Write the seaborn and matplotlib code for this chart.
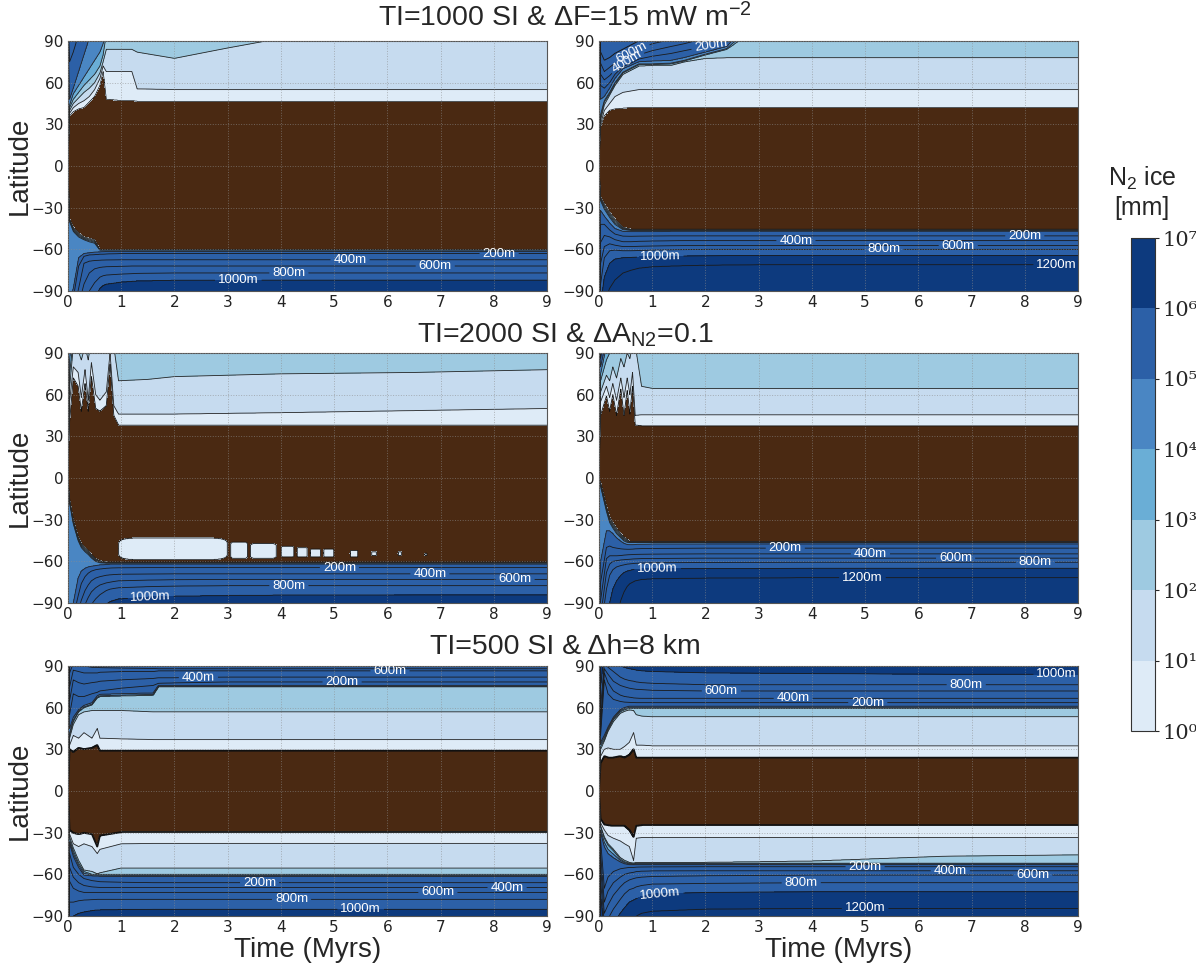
import numpy as np
import matplotlib
matplotlib.use("Agg")
import matplotlib.pyplot as plt
import seaborn as sns
from matplotlib.colors import ListedColormap, BoundaryNorm
import matplotlib.colorbar as mcolorbar

sns.set_style("white")
plt.rcParams['font.family'] = ['Liberation Sans', 'DejaVu Sans']
plt.rcParams['mathtext.fontset'] = 'custom'
plt.rcParams['mathtext.rm'] = 'Liberation Sans'
plt.rcParams['mathtext.it'] = 'Liberation Sans:italic'
plt.rcParams['mathtext.bf'] = 'Liberation Sans:bold'

# ------------------------------------------------------------------ data
# N2 ice thickness levels (mm) whose latitude is read off the picture
THICKNESS_MM = {"1mm": 1.0, "10mm": 10.0, "100mm": 100.0, "1m": 1e3, "10m": 1e4,
                "100m": 1e5, "200m": 2e5, "400m": 4e5, "600m": 6e5, "800m": 8e5,
                "1000m": 1e6, "1200m": 1.2e6}
COLORBAR_EXPONENTS = [0, 1, 2, 3, 4, 5, 6, 7]
TIME_TICKS = [0, 1, 2, 3, 4, 5, 6, 7, 8, 9]
LAT_TICKS = [-90, -60, -30, 0, 30, 60, 90]
ROW_TITLES = [r"TI=1000 SI & ΔF=15 mW m$^{\mathrm{-2}}$",
              r"TI=2000 SI & ΔA$_{\mathrm{N2}}$=0.1",
              r"TI=500 SI & Δh=8 km"]

# ---- panel 1 (top left)
P1_TIME = [0, 0.03, 0.1, 0.2, 0.3, 0.4, 0.5, 0.6, 0.66, 0.72, 1.0, 1.2, 1.3, 2, 3, 4, 9]
P1_NORTH = {
    "1mm":   [0.5, 36, 39, 41, 42, 46, 50, 58, 68, 48, 47, 47, 46.5, 46.5, 46.5, 46.5, 46.5],
    "10mm":  [1.0, 38, 42, 45, 47, 50, 55, 63, 72, 68, 68, 68, 55.5, 55, 55, 55, 55],
    "100mm": [1.5, 40, 45, 49, 53, 56, 60, 67, 75, 84, 84, 84, 82, 77.5, 85, 92, 93],
    "1m":    [2.0, 42, 48, 53, 58, 62, 66, 72, 80, 95, 95, 95, 100, 100, 100, 105, 105],
    "10m":   [2.5, 44, 52, 58, 64, 70, 76, 82, 88, 100, 110, 110, 110, 110, 110, 110, 110],
    "100m":  [100, 48, 56, 68, 80, 92, 105, 110, 115, 120, 120, 120, 120, 120, 120, 120, 120],
    "200m":  [110, 75, 82, 95, 110, 120, 125, 130, 130, 130, 130, 130, 130, 130, 130, 130, 130],
}
P1_SOUTH = {
    "1mm":   [-0.5, -38, -44, -48, -51, -52, -53, -60, -60, -60, -60, -60, -60, -60, -60, -60, -60],
    "10m":   [-2.5, -40, -47, -51, -53, -54.5, -55.5, -60.5, -60.5, -60.5, -60.5, -60.5, -60.5, -60.5, -60.5, -60.5, -60.5],
    "100m":  [-100, -98, -88, -66, -63, -62.5, -62, -61.8, -61.6, -61.5, -61.5, -61.5, -61.5, -61.5, -61.5, -61.5, -61.5],
    "200m":  [-110, -105, -95, -72, -65, -64, -63.8, -63.5, -63.5, -63.3, -63, -63, -63, -63, -63, -63, -63],
    "400m":  [-120, -115, -105, -88, -70, -68.5, -68, -67.8, -67.7, -67.6, -67.5, -67.5, -67.5, -67.5, -67.5, -67.5, -67.5],
    "600m":  [-130, -125, -115, -100, -85, -77, -74, -73, -72.7, -72.5, -72.2, -72, -72, -72, -72, -72, -72],
    "800m":  [-140, -135, -125, -110, -98, -90, -84, -80, -79, -78.5, -77.8, -77.5, -77.3, -77, -77, -77, -77],
    "1000m": [-150, -145, -135, -120, -110, -102, -95, -88, -86, -85, -83.5, -83, -82.7, -82.2, -82, -82, -82],
}

# ---- panel 2 (top right)
P2_TIME = [0, 0.03, 0.1, 0.2, 0.3, 0.45, 0.6, 0.75, 1.0, 1.35, 1.6, 2, 2.4, 3, 4, 6.5, 9]
P2_NORTH = {
    "1mm":   [0.5, 28, 36, 40, 41, 41.5, 42, 42, 42, 42, 42, 42, 42, 42, 42, 42, 42],
    "10mm":  [1.0, 30, 40, 45, 50, 53, 54, 55, 55, 55, 55, 55, 55, 55, 55, 55, 55],
    "100mm": [1.5, 33, 44, 51, 58, 66, 69, 72, 72.5, 72.5, 75, 77.5, 78, 78, 78, 78, 78],
    "1m":    [2.0, 35, 46, 52, 59, 67, 70, 73, 73, 73.5, 75.6, 80, 84, 100, 110, 110, 110],
    "10m":   [2.5, 37, 47, 53, 60, 67.5, 70.5, 73.5, 73.5, 74, 76, 80.5, 84.5, 105, 115, 115, 115],
    "100m":  [100, 48, 50, 56, 63, 70, 72.5, 75, 75.5, 76, 78, 82, 86, 110, 120, 120, 120],
    "200m":  [110, 58, 56, 60, 66, 71.5, 74, 77, 79, 81, 83, 86, 88, 115, 125, 125, 125],
    "400m":  [120, 66, 62, 65, 69, 74, 77, 80, 83, 86, 88, 92, 95, 120, 130, 130, 130],
    "600m":  [130, 74, 68, 71, 74, 78, 81, 84, 88, 91, 93, 97, 100, 125, 135, 135, 135],
    "800m":  [140, 82, 76, 78, 81, 84, 87, 90, 94, 97, 100, 105, 110, 130, 140, 140, 140],
}
P2_SOUTH = {
    "1mm":   [-0.5, -22, -27, -33, -38, -44, -45.5, -45.5, -45.5, -45.5, -45.5, -45.5, -45.5, -45.5, -45.5, -45.5, -45.5],
    "10m":   [-2.5, -25, -31, -37, -42, -45.8, -46.3, -46.3, -46.3, -46.3, -46.3, -46.3, -46.3, -46.3, -46.3, -46.3, -46.3],
    "100m":  [-100, -32, -36, -41, -45, -47, -47.2, -47.2, -47.2, -47, -47, -47, -47, -47, -47, -47, -47],
    "200m":  [-110, -42, -42, -46, -49, -50.5, -50.6, -50.5, -50.4, -50.3, -50.3, -50.3, -50.3, -50.3, -50.3, -50.3, -50.3],
    "400m":  [-120, -55, -50, -51, -53, -54.5, -54.5, -54.2, -54, -53.8, -53.7, -53.7, -53.7, -53.7, -53.7, -53.7, -53.7],
    "600m":  [-130, -70, -58, -56, -57, -58, -58, -57.8, -57.6, -57.4, -57.3, -57.3, -57.3, -57.3, -57.3, -57.3, -57.3],
    "800m":  [-140, -85, -66, -61, -60.5, -61, -61, -60.8, -60.5, -60.3, -60.2, -60, -60, -60, -60, -60, -60],
    "1000m": [-150, -100, -80, -70, -67, -66, -65.8, -65.5, -65.2, -65, -64.8, -64.6, -64.5, -64.5, -64.5, -64.5, -64.5],
    "1200m": [-160, -120, -98, -88, -82, -77, -75, -73.5, -72.5, -72, -71.7, -71.4, -71.2, -71, -71, -71, -71],
}

# ---- panel 3 (middle left)
P3_TIME = [0, 0.03, 0.1, 0.19, 0.25, 0.32, 0.38, 0.44, 0.52, 0.6, 0.72, 0.79, 0.86, 0.95, 1.5, 2, 3, 4, 6.5, 9]
P3_NORTH = {
    "1mm":   [0.5, 40, 72, 66, 48, 68, 48, 73, 50, 48, 52, 82, 45, 38, 38, 38, 38, 38, 38, 38],
    "10mm":  [1.0, 55, 80, 76, 58, 78, 56, 83, 60, 56, 62, 90, 52, 46, 46, 46, 46.5, 47, 48.5, 50],
    "100mm": [1.5, 65, 95, 92, 85, 95, 85, 100, 92, 90, 95, 105, 95, 70, 71, 73, 74, 75, 76, 78],
    "1m":    [2.0, 75, 100, 105, 105, 105, 105, 110, 110, 110, 110, 110, 110, 100, 100, 100, 100, 100, 100, 100],
    "10m":   [2.5, 85, 110, 115, 115, 115, 115, 115, 115, 115, 115, 115, 115, 115, 115, 115, 115, 115, 115, 115],
    "100m":  [100, 110, 120, 120, 120, 120, 120, 120, 120, 120, 120, 120, 120, 120, 120, 120, 120, 120, 120, 120],
}
P3_SOUTH = {
    "1mm":   [-0.5, -15, -30, -42, -47, -50, -52, -55, -58, -59.5, -60.5, -60.5, -60.5, -60.5, -60.5, -60.5, -60.5, -60.5, -60.5, -60.5],
    "10m":   [-2.5, -18, -33, -45, -50, -53, -55, -57.5, -60, -61, -61.3, -61.3, -61.3, -61.3, -61.3, -61.3, -61.3, -61.3, -61.3, -61.3],
    "100m":  [-100, -95, -90, -72, -67, -65, -64, -63.5, -63, -62.5, -62.2, -62, -62, -62, -62, -62, -62, -62, -62, -62],
    "200m":  [-110, -105, -100, -85, -76, -71, -68.5, -67, -66, -65.5, -65, -64.8, -64.7, -64.6, -64.5, -64.5, -64.5, -64.5, -64.5, -64.5],
    "400m":  [-120, -115, -110, -96, -88, -81, -77, -74, -72, -71, -70, -69.7, -69.5, -69.3, -69.1, -69, -69, -69, -69, -69],
    "600m":  [-130, -125, -120, -106, -98, -91, -86, -82, -79, -77, -75.5, -75, -74.5, -74, -73.5, -73.2, -73, -73, -73, -73],
    "800m":  [-140, -135, -130, -116, -108, -101, -96, -91, -87, -84, -81, -80, -79.5, -79, -78.2, -77.8, -77.5, -77.5, -77.5, -77.5],
    "1000m": [-150, -145, -140, -126, -118, -111, -106, -101, -97, -94, -90.5, -89, -88, -87, -85.5, -85, -84.5, -84.2, -84, -84],
}
# thin-ice patches inside the bare southern band (start, end in Myr, top, bottom latitude)
P3_PATCH_START = [0.95, 3.05, 3.42, 4.0, 4.3, 4.55, 4.8, 5.3, 5.7, 6.2, 6.7]
P3_PATCH_END = [3.0, 3.38, 3.92, 4.25, 4.5, 4.75, 5.0, 5.45, 5.8, 6.27, 6.75]
P3_PATCH_TOP = [-43, -46, -47, -49, -50, -51, -51, -52, -53, -53, -54]
P3_PATCH_BOTTOM = [-59, -58, -58, -57, -57, -57, -57, -57, -56, -56, -56]

# ---- panel 4 (middle right)
P4_TIME = [0, 0.03, 0.14, 0.2, 0.26, 0.33, 0.41, 0.47, 0.53, 0.58, 0.63, 0.68, 0.8, 1.0, 2, 4, 6.5, 9]
P4_NORTH = {
    "1mm":   [0.5, 45, 59, 48, 60, 45, 64, 45, 63, 46, 66, 38, 37.5, 37.5, 37.5, 37.5, 37.5, 37.5],
    "10mm":  [1.0, 55, 66, 58, 68, 56, 72, 58, 72, 60, 76, 45, 45.5, 45.5, 45.5, 45.5, 45.5, 45.5],
    "100mm": [1.5, 62, 74, 70, 80, 72, 86, 80, 90, 86, 96, 96, 66, 64.5, 64.5, 64.5, 64.5, 64.5],
    "1m":    [2.0, 70, 85, 90, 96, 100, 100, 100, 100, 100, 105, 105, 100, 100, 100, 100, 100, 100],
    "10m":   [2.5, 75, 95, 110, 110, 110, 110, 110, 110, 110, 110, 110, 110, 110, 110, 110, 110, 110],
    "100m":  [100, 80, 100, 120, 120, 120, 120, 120, 120, 120, 120, 120, 120, 120, 120, 120, 120, 120],
    "200m":  [110, 86, 110, 130, 130, 130, 130, 130, 130, 130, 130, 130, 130, 130, 130, 130, 130, 130],
}
P4_SOUTH = {
    "1mm":   [-0.5, -3, -20, -28, -32, -36, -40, -42.5, -44, -45.7, -45.7, -45.7, -45.7, -45.7, -45.7, -45.7, -45.7, -45.7],
    "10m":   [-2.5, -6, -24, -32, -36, -40, -43, -45.3, -46.3, -46.5, -46.5, -46.5, -46.5, -46.5, -46.5, -46.5, -46.5, -46.5],
    "100m":  [-100, -60, -38, -38, -40, -43, -45.5, -47, -47.8, -48, -48, -47.8, -47.6, -47.5, -47.5, -47.5, -47.5, -47.5],
    "200m":  [-110, -75, -50, -49, -50, -50.5, -51, -51.2, -51.3, -51.3, -51.2, -51, -50.8, -50.7, -50.5, -50.5, -50.5, -50.5],
    "400m":  [-120, -88, -58, -56, -56, -56, -55.8, -55.5, -55.3, -55.2, -55.1, -55, -54.9, -54.8, -54.6, -54.6, -54.6, -54.6],
    "600m":  [-130, -100, -68, -62, -60, -59.5, -59, -58.8, -58.6, -58.5, -58.3, -58.2, -58, -57.9, -57.7, -57.7, -57.7, -57.7],
    "800m":  [-140, -110, -80, -70, -66, -64, -63, -62.5, -62, -61.8, -61.6, -61.4, -61.2, -61, -60.8, -60.6, -60.6, -60.6],
    "1000m": [-150, -120, -100, -90, -80, -74, -70, -68, -67, -66.5, -66, -65.8, -65.5, -65.3, -65.2, -65, -65, -65],
    "1200m": [-160, -130, -115, -108, -103, -100, -88, -82, -78, -76, -75, -74, -73, -72.5, -72, -71.7, -71.7, -71.7],
}

# ---- panel 5 (bottom left)
P5_TIME = [0, 0.03, 0.1, 0.2, 0.3, 0.45, 0.55, 0.6, 1.0, 1.6, 1.7, 2, 3, 4, 6.5, 9]
P5_NORTH = {
    "1mm":   [0.5, 30, 28, 31, 30, 31, 33, 29, 29, 29, 29, 29, 29, 29, 29, 29],
    "10mm":  [1.0, 33, 40, 38, 42, 38, 45, 38, 37.5, 37, 37, 37, 37, 37, 37, 37],
    "100mm": [1.5, 38, 48, 55, 57, 58, 58, 58, 58, 57, 57, 57, 57, 57, 57, 57],
    "1m":    [2.0, 40, 50, 57, 60, 62, 67, 68, 68.5, 69, 75, 75, 75, 75, 75, 75],
    "10m":   [2.5, 42, 51, 57.5, 60.5, 62.5, 67.5, 68.5, 69, 69.5, 75.3, 75.3, 75.3, 75.3, 75.3, 75.3],
    "100m":  [100, 45, 53, 58.5, 61.5, 63.5, 68.5, 69.5, 70, 70.5, 76, 76, 76, 76, 76, 76],
    "200m":  [110, 55, 70, 68, 68, 70, 71, 72, 74, 76, 77.5, 77.8, 78.5, 78.5, 78.5, 78.5],
    "400m":  [120, 65, 80, 78, 77, 78, 78.5, 79, 80, 81, 81.5, 81.5, 82, 82, 82, 82],
    "600m":  [130, 75, 87, 86, 85, 85, 85, 85.5, 86, 86, 86.5, 86.5, 86.5, 86.5, 86.5, 86.5],
    "800m":  [140, 85, 92, 91, 90, 89, 89, 88.8, 88.5, 88.2, 88, 88, 88, 88, 88, 88],
    "1000m": [150, 95, 100, 98, 96, 94, 93, 92, 91, 90.5, 90, 89.8, 89.5, 89.3, 89.3, 89.3],
}
P5_SOUTH = {
    "1mm":   [-0.5, -28, -30, -31, -30, -31, -40, -32, -29.5, -29.5, -29.5, -29.5, -29.5, -29.5, -29.5, -29.5],
    "10mm":  [-1.0, -31, -38, -40, -38, -40, -45, -42, -38, -37.7, -37.7, -37.7, -37.7, -37.7, -37.7, -37.7],
    "100mm": [-1.5, -33, -41, -50, -57, -58, -59.8, -59, -55.5, -55.5, -55.5, -55.5, -55.5, -55.5, -55.5, -55.5],
    "1m":    [-2.0, -35, -43, -52, -58, -60, -60, -60, -60, -60, -60, -60, -60, -60, -60, -60],
    "100m":  [-100, -38, -47, -55, -60.5, -61, -61.2, -61.3, -61.5, -61.5, -61.5, -61.5, -61.5, -61.5, -61.5, -61.5],
    "200m":  [-110, -45, -55, -60, -63, -64.5, -65, -65.3, -65.7, -66, -66, -66, -66, -66, -66, -66],
    "400m":  [-120, -55, -62, -66, -68, -69, -69.3, -69.4, -69.5, -69.5, -69.5, -69.5, -69.5, -69.5, -69.5, -69.5],
    "600m":  [-130, -65, -70, -72, -73, -73, -73, -73, -73, -73, -73, -73, -73, -73, -73, -73],
    "800m":  [-140, -80, -80, -79, -78.5, -78.2, -78, -78, -78, -78, -78, -78, -78, -78, -78, -78],
    "1000m": [-150, -95, -90, -88, -87, -86, -85.5, -85.5, -85.2, -85, -85, -85, -85, -85, -85, -85],
}

# ---- panel 6 (bottom right)
P6_TIME = [0, 0.03, 0.1, 0.17, 0.27, 0.4, 0.48, 0.57, 0.65, 0.7, 0.8, 1.0, 2, 4, 6.5, 9]
P6_NORTH = {
    "1mm":   [0.5, 20, 25, 24, 24, 25, 24, 26, 30, 24, 24, 24, 24, 24, 24, 24],
    "10mm":  [1.0, 25, 30, 31, 30, 30, 32, 35, 42, 33, 33, 32.5, 32.5, 32.5, 32.5, 32.5],
    "100mm": [1.5, 30, 36, 43, 50, 56, 57.5, 58.5, 58, 55, 54, 53.5, 53.5, 53.5, 53.5, 53.5],
    "1m":    [2.0, 32, 37, 44, 51.3, 57, 58.5, 59.5, 59.5, 59.5, 59.5, 59.5, 59.5, 59.5, 59.5, 59.5],
    "100m":  [100, 35, 40, 46, 53, 58.5, 60, 61, 61, 61, 61, 61, 61, 61, 61, 61],
    "200m":  [110, 40, 80, 70, 66, 64.5, 64, 63.8, 63.7, 63.6, 63.6, 63.6, 63.6, 63.6, 63.6, 63.6],
    "400m":  [120, 45, 85, 78, 72, 69, 68, 67.5, 67, 66.8, 66.7, 66.7, 66.7, 66.7, 66.7, 66.7],
    "600m":  [130, 50, 88, 84, 79, 76, 75, 74, 73.5, 73.2, 73, 72.5, 72, 72, 72, 72],
    "800m":  [140, 60, 92, 89, 86, 82, 80.5, 79.5, 79, 78.5, 78, 77.5, 76.5, 76.5, 76.5, 76.5],
    "1000m": [150, 75, 100, 96, 93, 90, 89, 88, 87.5, 87, 86.5, 86, 85, 84.5, 84, 84],
    "1200m": [160, 95, 110, 110, 110, 110, 110, 110, 110, 110, 110, 110, 110, 110, 110, 110],
}
P6_SOUTH = {
    "1mm":   [-0.5, -20, -24, -24.5, -25, -25, -25, -28, -33, -25, -24.5, -24.5, -24.5, -24.5, -24.5, -24.5],
    "10mm":  [-1.0, -23, -28, -32, -34, -36, -38, -40, -50, -34, -33.5, -33.4, -33.4, -33.4, -33.4, -33.4],
    "100mm": [-1.5, -25, -33, -38, -42, -48, -50, -51.5, -52, -51.5, -51.5, -51.5, -51.5, -50.5, -47, -46],
    "1m":    [-2.0, -26, -34, -39, -43, -49, -51, -52, -52.5, -52, -52, -52, -52, -52, -52, -52],
    "100m":  [-100, -30, -40, -45, -48, -51, -52.3, -53, -53, -53, -53, -53, -53, -53, -53, -53],
    "200m":  [-110, -35, -70, -62, -58, -56, -55.5, -55, -55, -54.8, -54.7, -54.6, -54.5, -54.5, -54.5, -54.5],
    "400m":  [-120, -45, -80, -72, -66, -62, -60, -59, -58.5, -58, -57.7, -57.5, -57.4, -57.4, -57.4, -57.4],
    "600m":  [-130, -55, -88, -82, -75, -69, -66, -64, -63, -62.5, -62, -61.5, -61, -60.5, -60.5, -60.5],
    "800m":  [-140, -65, -95, -92, -85, -78, -74, -71, -70, -69, -68, -67, -66.5, -66, -66, -66],
    "1000m": [-150, -75, -100, -98, -95, -88, -84, -80, -78.5, -77.5, -76, -74, -73, -72.5, -72.5, -72.5],
    "1200m": [-160, -90, -110, -108, -105, -100, -97, -93, -91, -90, -88, -86.5, -85, -84.5, -84.5, -84.5],
}

# ------------------------------------------------------------------ style
BROWN = "#4a2912"
BLUES = sns.color_palette(["#deebf7", "#c6dbef", "#9ecae1", "#6aaed6",
                           "#4a86c3", "#2c60a7", "#0d3a7e"])
EDGE_WIDTH = [0.5, 0.5, 0.6, 0.6, 1.3, 1.3]
LABEL_SPOTS = [
    [("200m", 8.1, -63), ("400m", 5.3, -67.5), ("600m", 6.9, -72), ("800m", 4.15, -77), ("1000m", 3.2, -82)],
    [("600m", 0.62, 81.4), ("400m", 0.52, 75.4), ("200m", 2.1, 86.3),
     ("200m", 8.0, -50.3), ("400m", 3.7, -53.7), ("600m", 6.75, -57.3), ("800m", 5.35, -60),
     ("1000m", 1.15, -65), ("1200m", 8.6, -71)],
    [("200m", 5.1, -64.5), ("400m", 6.8, -69), ("600m", 8.4, -73), ("800m", 4.15, -77.5), ("1000m", 1.55, -84.5)],
    [("200m", 3.5, -50.5), ("400m", 5.1, -54.6), ("600m", 6.7, -57.7), ("800m", 8.2, -60.6),
     ("1000m", 1.1, -65), ("1200m", 4.95, -71.7)],
    [("400m", 2.45, 82), ("200m", 5.15, 78.5), ("600m", 6.05, 86.5),
     ("200m", 3.6, -66), ("800m", 4.2, -78), ("1000m", 5.5, -85), ("600m", 6.95, -73), ("400m", 8.25, -69.5)],
    [("600m", 2.3, 72), ("400m", 3.65, 66.7), ("200m", 5.05, 63.6), ("800m", 6.9, 76.5), ("1000m", 8.6, 84),
     ("200m", 5.0, -54.5), ("400m", 6.6, -57.4), ("600m", 8.15, -60.5), ("800m", 3.8, -66),
     ("1000m", 1.15, -72.5), ("1200m", 5.0, -84.5)],
]

# ------------------------------------------------------------------ field
ORDER = list(THICKNESS_MM)
LOGV = {k: float(np.log10(v)) for k, v in THICKNESS_MM.items()}
T_GRID = np.unique(np.concatenate([np.linspace(0, 1.6, 801), np.linspace(1.6, 9, 741)]))
LAT_GRID = np.linspace(-90, 90, 721)


def hemisphere(times, curves, sign):
    names = [k for k in ORDER if k in curves]
    vals = np.array([LOGV[k] for k in names])
    lats = np.array([np.interp(T_GRID, times, curves[k]) for k in names])
    step = 1e-3 * np.arange(len(names))[:, None]
    if sign > 0:
        lats = np.maximum.accumulate(lats, axis=0) + step
    else:
        lats = np.minimum.accumulate(lats, axis=0) - step
    nxt = ORDER.index(names[-1]) + 1
    beyond = LOGV[ORDER[nxt]] if nxt < len(ORDER) else 7.0
    return vals, lats, 0.5 * (vals[-1] + beyond)


def build_field(times, north, south, patches=None):
    nv, nl, ntop = hemisphere(times, north, +1)
    sv, sl, stop = hemisphere(times, south, -1)
    Z = np.empty((LAT_GRID.size, T_GRID.size))
    for j in range(T_GRID.size):
        s0, n0 = sl[0, j], nl[0, j]
        gap = min(0.3, (n0 - s0) / 3.0)
        xs = np.concatenate([[-400.0], sl[::-1, j], [s0 + gap, n0 - gap], nl[:, j], [400.0]])
        fs = np.concatenate([[stop], sv[::-1], [-1.0, -1.0], nv, [ntop]])
        Z[:, j] = np.interp(LAT_GRID, xs, fs)
    if patches is not None:
        for t0, t1, top, bot in zip(*patches):
            mid, half = 0.5 * (top + bot), 0.5 * (top - bot)
            for j in np.where((T_GRID >= t0) & (T_GRID <= t1))[0]:
                u = abs(2.0 * (T_GRID[j] - t0) / (t1 - t0) - 1.0)
                h = half * (1.0 - min(u, 1.0) ** 6) ** (1.0 / 6.0)
                rows = (LAT_GRID < mid + h) & (LAT_GRID > mid - h) & (Z[:, j] < 0)
                Z[rows, j] = 0.5
    return Z


PANELS = [
    (P1_TIME, P1_NORTH, P1_SOUTH, None),
    (P2_TIME, P2_NORTH, P2_SOUTH, None),
    (P3_TIME, P3_NORTH, P3_SOUTH, (P3_PATCH_START, P3_PATCH_END, P3_PATCH_TOP, P3_PATCH_BOTTOM)),
    (P4_TIME, P4_NORTH, P4_SOUTH, None),
    (P5_TIME, P5_NORTH, P5_SOUTH, None),
    (P6_TIME, P6_NORTH, P6_SOUTH, None),
]

# ------------------------------------------------------------------ figure
fig = plt.figure(figsize=(11.96, 9.71), dpi=100)
W, H = 1196.0, 971.0
col_left = [68 / W, 599 / W]
row_bottom = [1 - 291 / H, 1 - 603 / H, 1 - 916 / H]
ax_w, ax_h = 479 / W, 250 / H

fill_levels = [-1.5] + [float(e) for e in COLORBAR_EXPONENTS[:-1]] + [7.5]
fill_colors = [BROWN] + list(BLUES)
decade_levels = [LOGV[k] for k in ["10mm", "100mm", "1m", "10m", "100m"]]
metre_names = ["200m", "400m", "600m", "800m", "1000m", "1200m"]

for i, (times, north, south, patches) in enumerate(PANELS):
    r, c = divmod(i, 2)
    ax = fig.add_axes([col_left[c], row_bottom[r], ax_w, ax_h])
    Z = build_field(times, north, south, patches)
    ax.contourf(T_GRID, LAT_GRID, Z, levels=fill_levels, colors=fill_colors)
    ax.contour(T_GRID, LAT_GRID, Z, levels=[0.0], colors="#111111", linewidths=EDGE_WIDTH[i])
    ax.contour(T_GRID, LAT_GRID, Z, levels=decade_levels, colors="#262626", linewidths=0.6)
    for name in metre_names:
        lv = LOGV[name]
        cs = ax.contour(T_GRID, LAT_GRID, Z, levels=[lv], colors="#1a1a1a", linewidths=0.6)
        spots = [(tx, ly) for n, tx, ly in LABEL_SPOTS[i] if n == name]
        if spots and len(cs.allsegs[0]) > 0:
            ax.clabel(cs, manual=spots, inline=True, inline_spacing=3,
                      fmt={lv: name}, fontsize=9.5, colors="white")
    ax.set_xlim(0, 9)
    ax.set_ylim(-90, 90)
    ax.set_xticks(TIME_TICKS)
    ax.set_yticks(LAT_TICKS)
    ax.set_axisbelow(False)
    ax.grid(True, color="#8c8c8c", linestyle=":", linewidth=0.7, alpha=0.6)
    ax.tick_params(labelsize=11, length=0, pad=3, colors="#222222")
    for lab in ax.get_xticklabels() + ax.get_yticklabels():
        lab.set_fontfamily("DejaVu Sans")
    for sp in ax.spines.values():
        sp.set_color("#555555")
        sp.set_linewidth(0.8)
    if c == 0:
        ax.set_ylabel("Latitude", fontsize=20)
        ax.yaxis.set_label_coords(-0.073, 0.5)
    if r == 2:
        ax.set_xlabel("Time (Myrs)", fontsize=20)
        ax.xaxis.set_label_coords(0.5, -0.085)

title_y = [1 - 18 / H, 1 - 335 / H, 1 - 647 / H]
for t, y in zip(ROW_TITLES, title_y):
    fig.text(565 / W, y, t, ha="center", va="center", fontsize=20.5)

# colorbar
cax = fig.add_axes([1131 / W, 1 - 731 / H, 24 / W, 493 / H])
cmap = ListedColormap(list(BLUES))
norm = BoundaryNorm(COLORBAR_EXPONENTS, cmap.N)
cb = mcolorbar.ColorbarBase(cax, cmap=cmap, norm=norm, orientation="vertical")
sup = str.maketrans("0123456789", "⁰¹²³⁴⁵⁶⁷⁸⁹")
cb.set_ticks(COLORBAR_EXPONENTS)
cb.set_ticklabels(["10" + str(e).translate(sup) for e in COLORBAR_EXPONENTS])
cb.outline.set_linewidth(0.8)
cb.outline.set_edgecolor("#333333")
cax.tick_params(length=3, pad=2, labelsize=15)
for lab in cax.get_yticklabels():
    lab.set_fontfamily("DejaVu Serif")
fig.text(1142 / W, 1 - 178 / H, r"N$_{\mathrm{2}}$ ice", ha="center", va="center", fontsize=18)
fig.text(1142 / W, 1 - 208 / H, "[mm]", ha="center", va="center", fontsize=18)

fig.savefig("out.png", dpi=100)
